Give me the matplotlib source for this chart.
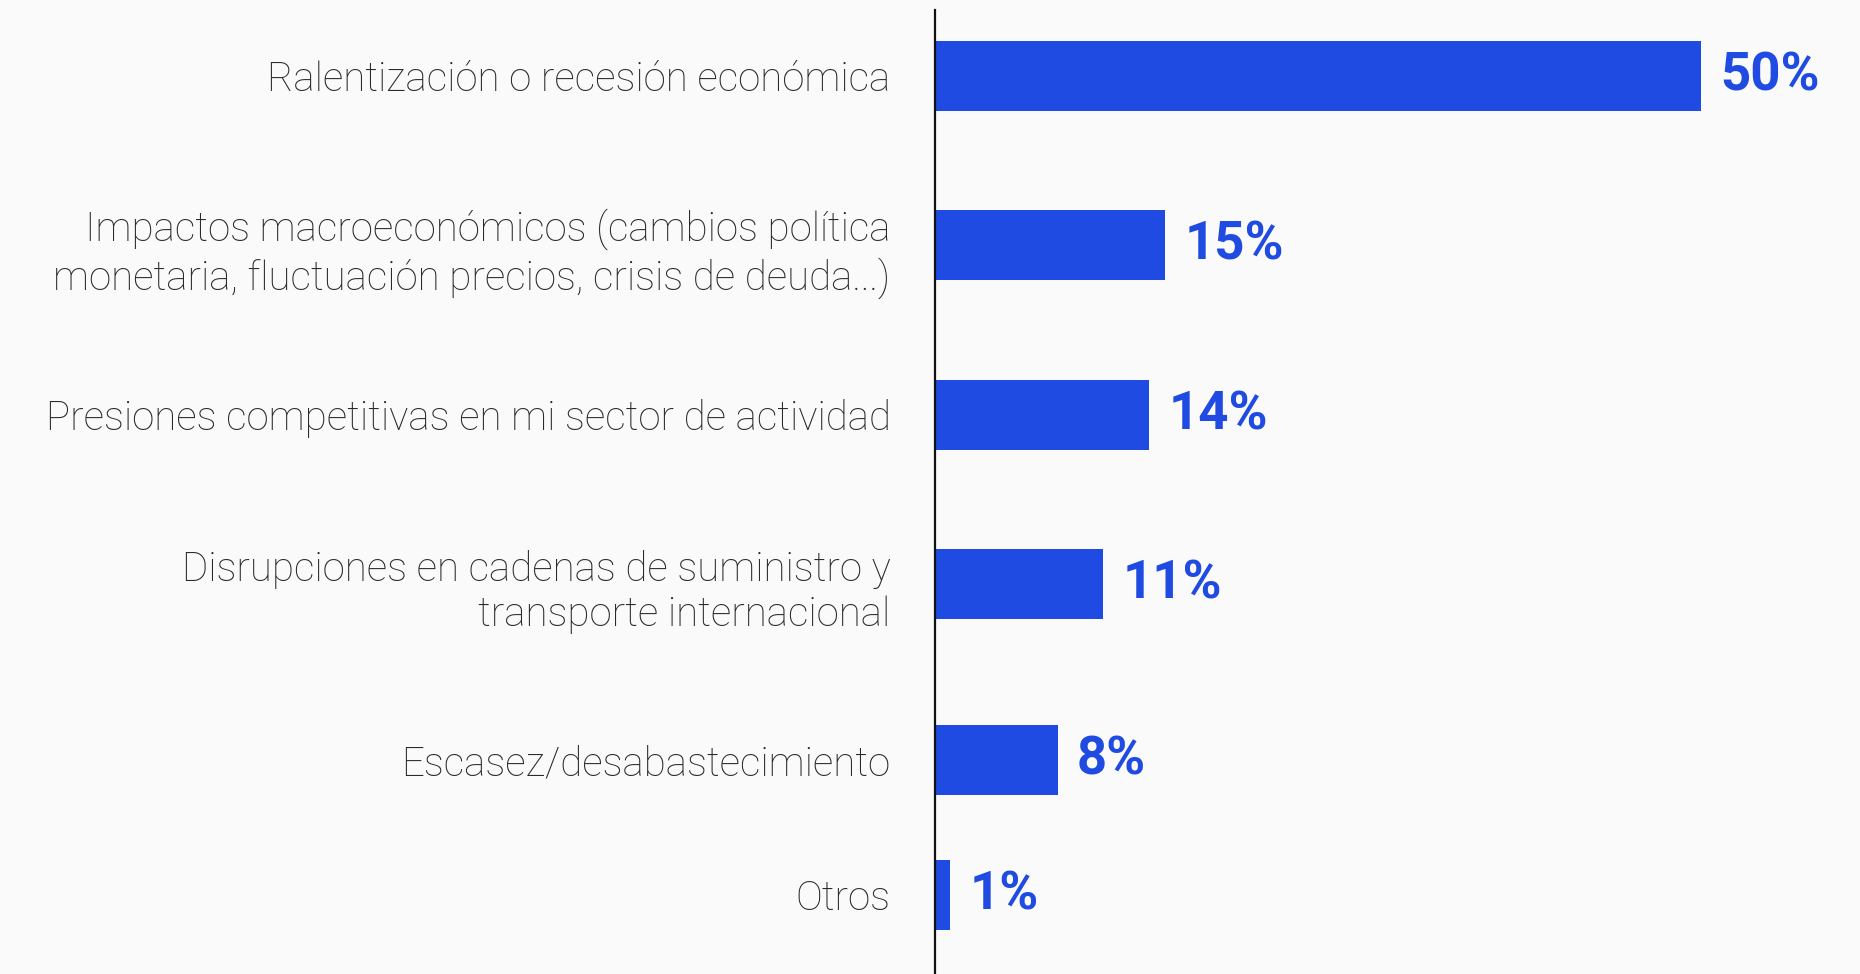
import matplotlib.pyplot as plt

categories = [
    'Ralentización o recesión económica',
    'Impactos macroeconómicos (cambios política\nmonetaria, fluctuación precios, crisis de deuda...)',
    'Presiones competitivas en mi sector de actividad',
    'Disrupciones en cadenas de suministro y\ntransporte internacional',
    'Escasez/desabastecimiento',
    'Otros',
]
values = [50, 15, 14, 11, 8, 1]

# row positions (the reference spacing is not quite even at the bottom)
row_pos = [0, 1, 2, 3, 4.035, 4.83]

BLUE = '#1f4be2'
BG = '#fafafa'

fig = plt.figure(figsize=(18.6, 9.74), dpi=100, facecolor=BG)
ax = fig.add_axes([935 / 1860, 0, 1 - 935 / 1860, 1 - 9.5 / 974])
ax.set_facecolor(BG)

ax.barh(row_pos, values, height=0.413, color=BLUE)
ax.set_xlim(0, 60.4)
ax.set_ylim(5.298, -0.392)

for s in ['top', 'right', 'bottom']:
    ax.spines[s].set_visible(False)
ax.spines['left'].set_linewidth(1.6)
ax.spines['left'].set_color('#111111')

ax.set_xticks([])
ax.set_yticks(row_pos)
ax.set_yticklabels(categories, fontsize=29, color='#2a2a2a',
                   family=['Roboto', 'DejaVu Sans'], fontweight='light',
                   linespacing=1.22)
ax.tick_params(axis='y', length=0, pad=32)

for v, y in zip(values, row_pos):
    ax.annotate(f'{v}%', (v, y), xytext=(14, 0), textcoords='offset points',
                va='center', ha='left', fontsize=38, fontweight='bold',
                color=BLUE, family=['Roboto', 'DejaVu Sans'])

fig.savefig('out.png', dpi=100, facecolor=BG)
